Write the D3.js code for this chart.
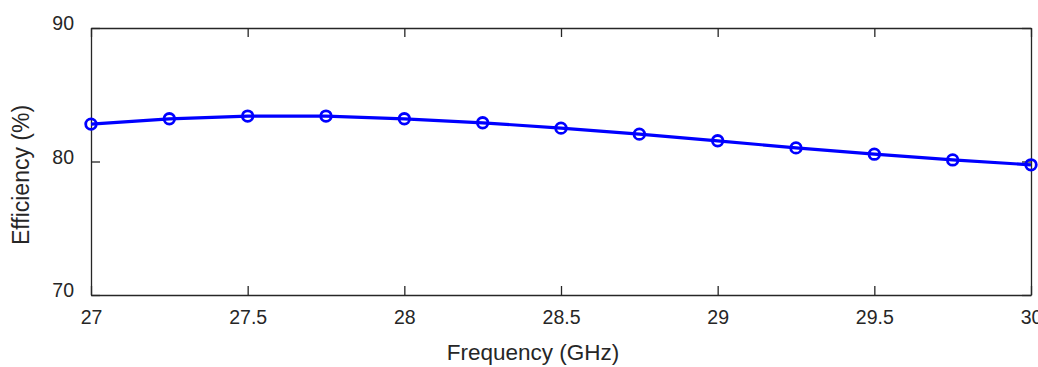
<!DOCTYPE html>
<html>
<head>
<meta charset="utf-8">
<script src="https://cdn.jsdelivr.net/npm/d3@7"></script>
<style>
  body { margin: 0; background: #fff; }
  svg text { font-family: "Liberation Sans", Arial, sans-serif; fill: #262626; }
</style>
</head>
<body>
<div class="chart"></div>
<script>
// data
const frequency = [27, 27.25, 27.5, 27.75, 28, 28.25, 28.5, 28.75, 29, 29.25, 29.5, 29.75, 30];
const efficiency = [82.8, 83.2, 83.4, 83.4, 83.2, 82.9, 82.5, 82.05, 81.55, 81.02, 80.55, 80.12, 79.75];
const xTickValues = [27, 27.5, 28, 28.5, 29, 29.5, 30];
const yTickValues = [70, 80, 90];

const width = 1038, height = 367;
const margin = { top: 28, right: 7, bottom: 72, left: 91 };
const innerW = width - margin.left - margin.right;
const innerH = height - margin.top - margin.bottom;
const axisColor = "#262626";

const svg = d3.select(".chart").append("svg")
  .attr("width", width)
  .attr("height", height);

const g = svg.append("g")
  .attr("transform", `translate(${margin.left},${margin.top})`);

const x = d3.scaleLinear().domain([27, 30]).range([0, innerW]);
const y = d3.scaleLinear().domain([70, 90]).range([innerH, 0]);

// box with inward ticks on all four sides
function styleAxis(sel) {
  sel.select(".domain").attr("stroke", axisColor).attr("stroke-width", 1.3);
  sel.selectAll(".tick line").attr("stroke", axisColor).attr("stroke-width", 1.3);
  sel.selectAll("text").attr("font-size", 19.5).attr("fill", axisColor);
}

g.append("g")
  .attr("transform", `translate(0,${innerH})`)
  .call(d3.axisBottom(x).tickValues(xTickValues).tickSize(-9).tickPadding(15).tickSizeOuter(0).tickFormat(d3.format("")))
  .call(styleAxis);

g.append("g")
  .call(d3.axisTop(x).tickValues(xTickValues).tickSize(-9).tickSizeOuter(0).tickFormat(""))
  .call(styleAxis);

g.append("g")
  .call(d3.axisLeft(y).tickValues(yTickValues).tickSize(-9).tickPadding(17).tickSizeOuter(0))
  .call(styleAxis)
  .call(ax => ax.selectAll("text").attr("dy", "0.1em"));

g.append("g")
  .attr("transform", `translate(${innerW},0)`)
  .call(d3.axisRight(y).tickValues(yTickValues).tickSize(-9).tickSizeOuter(0).tickFormat(""))
  .call(styleAxis);

// axis labels
svg.append("text")
  .attr("x", 533)
  .attr("y", 360)
  .attr("text-anchor", "middle")
  .attr("font-size", 22.5)
  .text("Frequency (GHz)");

svg.append("text")
  .attr("transform", `translate(29,175) rotate(-90)`)
  .attr("text-anchor", "middle")
  .attr("font-size", 23)
  .text("Efficiency (%)");

const points = frequency.map((f, i) => ({ f: f, e: efficiency[i] }));

const line = d3.line()
  .curve(d3.curveLinear)
  .x(d => x(d.f))
  .y(d => y(d.e));

g.append("path")
  .datum(points)
  .attr("d", line)
  .attr("fill", "none")
  .attr("stroke", "#0000ff")
  .attr("stroke-width", 3.2);

g.selectAll("circle.marker")
  .data(points)
  .enter().append("circle")
  .attr("class", "marker")
  .attr("cx", d => x(d.f))
  .attr("cy", d => y(d.e))
  .attr("r", 5.3)
  .attr("fill", "none")
  .attr("stroke", "#0000ff")
  .attr("stroke-width", 2.8);
</script>
</body>
</html>
